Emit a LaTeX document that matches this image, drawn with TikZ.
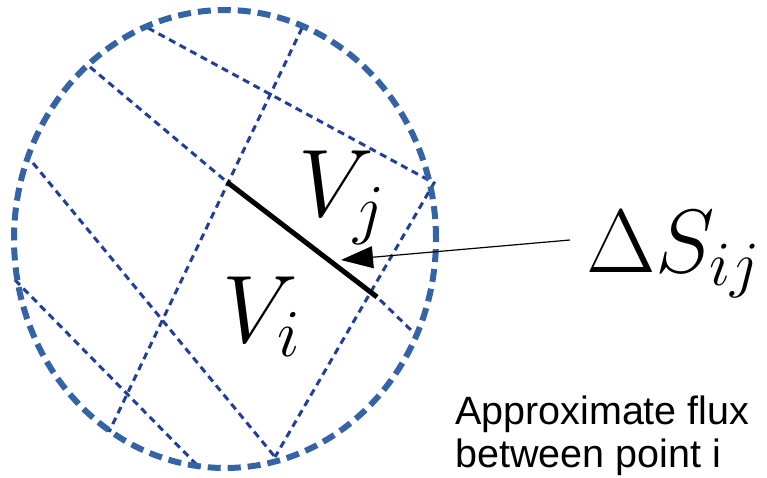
\documentclass[tikz,border=0pt]{standalone}
\usepackage{fix-cm}
\usepackage{fontspec}
\newfontfamily\capfont{Liberation Sans}
\usetikzlibrary{arrows.meta}
\definecolor{rimblue}{HTML}{3464A6}
\definecolor{cellblue}{HTML}{213F98}

\begin{document}
\begin{tikzpicture}[
  x=1pt,y=-1pt,
  rim/.style={draw=rimblue,line width=6pt,dash pattern=on 13pt off 7pt},
  cell/.style={draw=cellblue,line width=3pt,dash pattern=on 7pt off 5pt},
  face/.style={draw=black,line width=5pt},
  lbl/.style={anchor=base west,inner sep=0pt,font=\fontsize{96}{100}\selectfont},
  flux/.style={anchor=base west,inner sep=0pt,font=\fontsize{90}{94}\selectfont},
  note/.style={anchor=north west,inner sep=0pt,align=left,font=\capfont\fontsize{39.5}{43}\selectfont},
  arr/.style={-{Triangle[length=32pt,width=22pt]},line width=1.2pt}
]
\useasboundingbox (0,0) rectangle (767,478);

\coordinate (ne) at (434,183);
\coordinate (so) at (275,457);
\coordinate (sa) at (227,182);
\coordinate (sb) at (377,297);

% cells
\draw[cell] (148,28) -- (ne) -- (so);
\draw[cell] (302,28) -- (109,432);
\draw[cell] (90,67) -- (sa) -- (sb) -- (414,333);
\draw[cell] (33,163) -- (so);
\draw[cell] (15,280) -- (197,465);

\draw[rim] (225,239) ellipse [x radius=211pt,y radius=229pt];

\draw[face] (sa) -- (sb);

\node[lbl] (vj) at (298,217) {$V_j$};
\node[lbl] (vi) at (222,342) {$V_i$};
\node[flux] (ds) at (586,272) {$\Delta S_{ij}$};
\coordinate (hit) at (341,260);
\draw[arr] ([shift={(-16pt,32pt)}]ds.base west) -- (hit);

\node[note] (txt) at (455,396) {Approximate flux\\between point i};

\end{tikzpicture}
\end{document}
